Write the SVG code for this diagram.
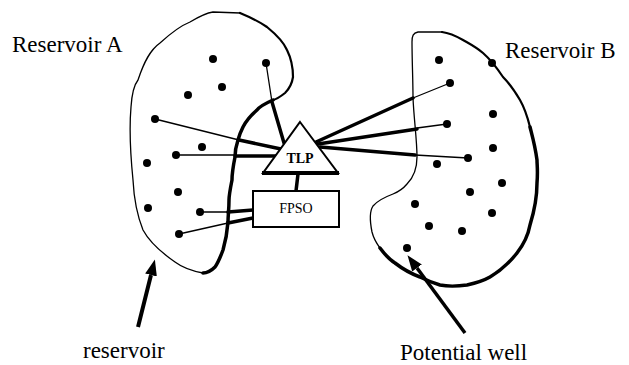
<svg xmlns="http://www.w3.org/2000/svg" width="629" height="365" viewBox="0 0 629 365">
<style>
.thin{fill:none;stroke:#000;stroke-width:1.3;stroke-linecap:round;stroke-linejoin:round}
.med{fill:none;stroke:#000;stroke-width:2.2;stroke-linecap:round;stroke-linejoin:round}
.thick{fill:none;stroke:#000;stroke-width:3.5;stroke-linecap:round;stroke-linejoin:round}
.dot{fill:#000}
.lbl{font-family:"Liberation Serif","Times New Roman",serif;font-size:23px;fill:#000}
.tl{font-family:"Liberation Serif","Times New Roman",serif;font-weight:bold;font-size:14px;fill:#000}
.fl{font-family:"Liberation Serif","Times New Roman",serif;font-size:14px;fill:#000}
.box{fill:#fff;stroke:#000;stroke-width:2}
</style>
<defs>
<marker id="ah" markerUnits="userSpaceOnUse" markerWidth="18" markerHeight="14" refX="0" refY="7" orient="auto" viewBox="0 0 18 14">
<path d="M0,1 L16,7 L0,13 z" fill="#000"/>
</marker>
</defs>
<rect width="629" height="365" fill="#fff"/>

<g id="reservoir-a">
<path class="thin" d="M203,273 C192,271 183,268 175,262 C162,253 150,243 143,230 C137,215 134,200 133,180 C131,160 129,130 131,107 C132,92 134,85 138,80 C144,62 150,50 160,43 C172,32 180,26 190,22 C200,16 206,13 213,12 L240,13"/>
<path class="med" d="M240,13 C252,18 260,22 267,27 C278,36 284,43 287,50 C292,60 293,70 293,77 C292,84 290,88 285,93 C280,97 277,99 273,100"/>
<path class="thick" d="M273,100 C264,104 260,106 257,110 C250,116 246,121 243,127 C240,133 239,136 238,140 C236,146 235,151 235,157 C233,167 232,175 232,180 C230,190 229,195 229,200 C229,210 228,215 228,222 C227,235 225,243 223,250 C220,258 218,263 215,267 C211,271 207,273 203,273"/>
<circle class="dot" cx="213" cy="59" r="4"/>
<circle class="dot" cx="266" cy="63" r="4"/>
<circle class="dot" cx="222" cy="87" r="4"/>
<circle class="dot" cx="188" cy="95" r="4"/>
<circle class="dot" cx="155" cy="119" r="4"/>
<circle class="dot" cx="202" cy="147" r="4"/>
<circle class="dot" cx="176" cy="155" r="4"/>
<circle class="dot" cx="147" cy="163" r="4"/>
<circle class="dot" cx="178" cy="192" r="4"/>
<circle class="dot" cx="148" cy="208" r="4"/>
<circle class="dot" cx="200" cy="212" r="4"/>
<circle class="dot" cx="179" cy="234" r="4"/>
</g>

<g id="reservoir-b">
<path class="thin" d="M442,32 L418,32 C413,33 412,36 412,42 C412,60 413,80 413,98 C414,120 417,140 417,157 C417,170 413,178 407,184 C402,190 398,192 393,194 C385,197 378,200 373,206 C369,212 370,222 372,232 C374,240 377,244 380,248"/>
<path class="thick" d="M380,248 C386,256 390,260 395,263 C404,270 412,274 420,277 C426,280 430,282 440,285 C450,287 460,286 467,285 C476,283 483,281 490,277 C500,271 510,262 517,253 C524,244 528,236 530,225 C534,212 537,198 537,183 C538,170 537,165 537,160 C535,145 532,135 530,127"/>
<path class="med" d="M530,127 C527,115 524,107 520,100 C514,90 508,82 503,77 C497,68 491,60 483,53 C476,47 470,44 463,40 C456,36 450,33 442,32"/>
<circle class="dot" cx="439" cy="60" r="4"/>
<circle class="dot" cx="492" cy="63" r="4"/>
<circle class="dot" cx="450" cy="83" r="4"/>
<circle class="dot" cx="493" cy="114" r="4"/>
<circle class="dot" cx="447" cy="124" r="4"/>
<circle class="dot" cx="493" cy="148" r="4"/>
<circle class="dot" cx="468" cy="158" r="4"/>
<circle class="dot" cx="437" cy="164" r="4"/>
<circle class="dot" cx="502" cy="183" r="4"/>
<circle class="dot" cx="470" cy="192" r="4"/>
<circle class="dot" cx="415" cy="204" r="4"/>
<circle class="dot" cx="492" cy="213" r="4"/>
<circle class="dot" cx="429" cy="226" r="4"/>
<circle class="dot" cx="462" cy="231" r="4"/>
<circle class="dot" cx="407" cy="248" r="4"/>
</g>

<g id="connectors">
<line class="thin" x1="266" y1="63" x2="272" y2="102"/>
<line class="thick" x1="272" y1="102" x2="284" y2="143"/>
<line class="thin" x1="155" y1="119" x2="239" y2="140"/>
<line class="thick" x1="239" y1="140" x2="281" y2="149"/>
<line class="thin" x1="176" y1="155" x2="235" y2="155"/>
<line class="thick" x1="235" y1="156" x2="276" y2="156"/>
<line class="thin" x1="450" y1="83" x2="413" y2="98"/>
<line class="thick" x1="413" y1="98" x2="316" y2="142"/>
<line class="thin" x1="447" y1="124" x2="417" y2="128"/>
<line class="thick" x1="417" y1="129" x2="318" y2="144"/>
<line class="thin" x1="468" y1="158" x2="415" y2="155"/>
<line class="thick" x1="415" y1="155" x2="320" y2="147"/>
<line class="thick" x1="298" y1="174" x2="296" y2="191"/>
<line class="thin" x1="200" y1="212" x2="228" y2="212"/>
<line class="thick" x1="228" y1="212" x2="253" y2="210"/>
<line class="thin" x1="179" y1="234" x2="228" y2="223"/>
<line class="thick" x1="228" y1="223" x2="253" y2="218"/>
<line x1="138" y1="327" x2="151" y2="275" stroke="#000" stroke-width="4" marker-end="url(#ah)"/>
<line x1="465" y1="333" x2="417" y2="268" stroke="#000" stroke-width="3.5" marker-end="url(#ah)"/>
</g>

<g id="tlp">
<path d="M300,122 L338,173 L263,173 Z" fill="#fff" stroke="#000" stroke-width="2" stroke-linejoin="miter"/>
<line x1="262" y1="173" x2="339" y2="173" stroke="#000" stroke-width="4"/>
<text class="tl" x="300" y="163" text-anchor="middle">TLP</text>
</g>

<g id="fpso">
<rect class="box" x="253" y="191" width="86" height="36"/>
<text class="fl" x="296" y="213" text-anchor="middle">FPSO</text>
</g>

<text class="lbl" x="12" y="52">Reservoir A</text>
<text class="lbl" x="505" y="58">Reservoir B</text>
<text class="lbl" x="83" y="358">reservoir</text>
<text class="lbl" x="400" y="360">Potential well</text>
</svg>
